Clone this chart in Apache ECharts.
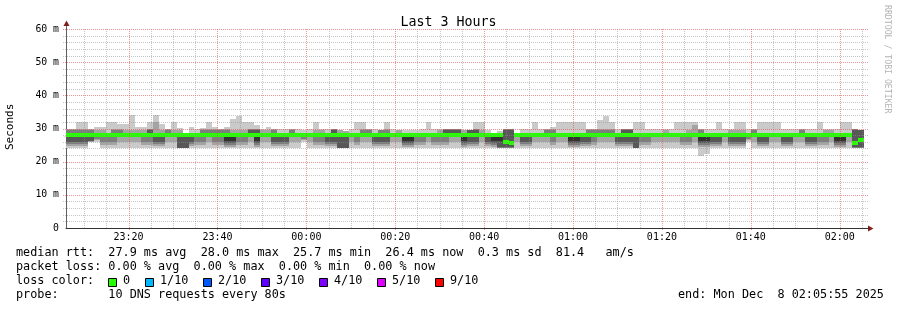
<!DOCTYPE html>
<html><head><meta charset="utf-8">
<script src="https://cdn.jsdelivr.net/npm/echarts@6/dist/echarts.min.js"></script>
<style>html,body{margin:0;padding:0;background:#fff}#c{width:897px;height:310px}</style>
</head><body><div id="c"></div>
<script>
// time in seconds after 23:00:00
const startTime = 329;      // start of first 80 s step (partially before axis start)
const stepSec = 80;
const axisStart = 355;      // 23:05:55
const axisEnd = 11155;      // 02:05:55
const majorTimes = [1200, 2400, 3600, 4800, 6000, 7200, 8400, 9600, 10800];
const minorTimes = [600, 900, 1500, 1800, 2100, 2700, 3000, 3300, 3900, 4200, 4500, 5100, 5400, 5700,
  6300, 6600, 6900, 7500, 7800, 8100, 8700, 9000, 9300, 9900, 10200, 10500, 11100];
const majorRtt = [10, 20, 30, 40, 50, 60];
const minorRtt = [2, 4, 6, 8, 12, 14, 16, 18, 22, 24, 26, 28, 32, 34, 36, 38, 42, 44, 46, 48, 52, 54, 56, 58];

// sorted ping rtts (ms) per 80 s step, rank 1 (fastest) .. rank 10 (slowest)
const p10 = [29.7,
 30,32,32,30,30.5,30.5,32,32,31.5,31.4,
 34.2,30.5,30.5,32,34.2,31.4,30,32,30.2,28.6,
 30.5,30,30.2,32,30.5,30,30.5,33,33.7,32,
 32,31,30,30.5,30,30,29.8,30,30,29.5,
 30,32,30,30,30,29.5,29.2,30,32,32,
 30,30,29.5,32,30,29.5,29.6,29.6,29.6,30,
 32,30,30,30,30,30,29.5,29.6,32,32,
 29.5,28.6,29.2,29.8,29.8,28.6,29.8,29.8,32,30,
 30,30.5,32,32,32,32,32,30,30,32.7,
 33.7,32,30,30,30,32,32,30,30,30,
 29.8,30,32,32,32,32,30,30,30,32,
 30,30,32,32,30,30,32,32,32,32,
 30,30,30,30,30,30,32,30,30,30,
 32,32,29.8,29.6];
const p9 = [29.7,
 29.7,29.7,29.7,29.7,29.6,29.6,28.6,29.7,29.7,29.6,
 29.6,29.6,29.6,29.8,32,29.6,29.7,29.6,29.6,28.6,
 28.6,28.6,29.7,29.7,29.7,29.7,29.7,29.6,29.6,29.6,
 29.8,29.8,29.6,29.6,29.7,28.6,28.6,29.7,28.6,28.6,
 28.6,29.6,29.6,28.6,29.8,29.5,29.2,28.6,28.6,29.7,
 29.7,28.6,29.5,29.7,28.6,29.5,28.6,28.6,28.6,28.6,
 28.6,28.6,29.6,29.8,29.8,29.8,29.5,29.6,29.8,29.6,
 28.6,28.6,28.6,29.8,29.8,28.6,28.6,28.6,28.6,28.6,
 29.7,29.7,28.6,28.6,28.6,28.6,28.6,29.7,29.7,29.7,
 29.7,29.7,28.6,29.8,29.8,28.6,28.6,28.6,28.6,28.6,
 29.6,28.6,28.6,28.6,29.6,31.2,29.7,28.6,28.6,28.6,
 28.6,29.6,29.6,29.6,28.6,29.7,28.6,28.6,28.6,28.6,
 28.6,28.6,28.6,29.7,28.6,28.6,28.6,29.6,29.6,28.6,
 28.6,28.6,29.8,29.6];
const p8 = [29.6,
 29.6,29.6,29.6,29.6,28.6,28.6,28.5,29.6,29.6,28.6,
 28.6,28.6,28.6,29.7,28.6,28.6,29.6,28.6,28.6,28.5,
 28.5,28.5,29.6,29.6,29.6,29.6,29.6,28.6,28.6,28.6,
 29.7,29.7,28.6,28.6,29.6,28.5,28.5,29.6,28.5,28.5,
 28.5,28.6,28.6,28.5,29.7,28.6,28.6,28.5,28.5,29.6,
 29.6,28.5,29.5,29.6,28.5,28.6,28.5,28.5,28.5,28.5,
 28.5,28.5,28.6,29.7,29.7,29.7,28.6,29.5,29.7,28.6,
 28.5,28.5,28.5,29.7,29.7,28.5,28.5,28.5,28.5,28.5,
 29.6,29.6,28.5,28.5,28.5,28.5,28.5,29.6,29.6,29.6,
 29.6,29.6,28.5,29.7,29.7,28.5,28.5,28.5,28.5,28.5,
 28.6,28.5,28.5,28.5,28.6,28.6,29.6,28.5,28.5,28.5,
 28.5,28.6,28.6,28.6,28.5,29.6,28.5,28.5,28.5,28.5,
 28.5,28.5,28.5,29.6,28.5,28.5,28.5,28.6,28.6,28.5,
 28.5,28.5,29.7,29.5];
const p7 = [28.6,
 28.6,28.6,28.6,28.6,28.5,28.5,28.4,28.6,28.6,28.5,
 28.5,28.5,28.5,29.6,28.5,28.5,28.6,28.5,28.5,28.4,
 28.4,28.4,28.6,28.6,28.6,28.6,28.6,28.5,28.5,28.5,
 29.6,29.6,28.5,28.5,28.6,28.4,28.4,28.6,28.4,28.4,
 28.4,28.5,28.5,28.4,29.6,28.5,28.5,28.4,28.4,28.6,
 28.6,28.4,28.6,28.6,28.4,28.5,28.4,28.4,28.4,28.4,
 28.4,28.4,28.5,29.6,29.6,29.6,28.5,29.4,29.6,28.5,
 28.4,28.4,28.4,29.6,29.6,28.4,28.4,28.4,28.4,28.4,
 28.6,28.6,28.4,28.4,28.4,28.4,28.4,28.6,28.6,28.6,
 28.6,28.6,28.4,29.6,29.6,28.4,28.4,28.4,28.4,28.4,
 28.5,28.4,28.4,28.4,28.5,28.5,28.6,28.4,28.4,28.4,
 28.4,28.5,28.5,28.5,28.4,28.6,28.4,28.4,28.4,28.4,
 28.4,28.4,28.4,28.6,28.4,28.4,28.4,28.5,28.5,28.4,
 28.4,28.4,29.6,29.4];
const p6 = [28.3,
 28.3,28.3,28.3,28.3,28.3,28.3,28.3,28.3,28.3,28.3,
 28.3,28.3,28.3,28.4,28.3,28.3,28.3,28.3,28.3,28.3,
 28.3,28.3,28.3,28.3,28.3,28.3,28.3,28.3,28.3,28.3,
 28.4,28.4,28.3,28.3,28.3,28.3,28.3,28.3,28.3,28.3,
 28.3,28.3,28.3,28.3,28.4,28.3,28.3,28.3,28.3,28.3,
 28.3,28.3,28.3,28.3,28.3,28.3,28.3,28.3,28.3,28.3,
 28.3,28.3,28.3,28.4,28.4,28.4,28.3,28.4,28.4,28.3,
 28.3,28.3,28.3,26.5,26.0,28.3,28.3,28.3,28.3,28.3,
 28.3,28.3,28.3,28.3,28.3,28.3,28.3,28.3,28.3,28.3,
 28.3,28.3,28.3,28.4,28.4,28.3,28.3,28.3,28.3,28.3,
 28.3,28.3,28.3,28.3,28.3,28.3,28.3,28.3,28.3,28.3,
 28.3,28.3,28.3,28.3,28.3,28.3,28.3,28.3,28.3,28.3,
 28.3,28.3,28.3,28.3,28.3,28.3,28.3,28.3,28.3,28.3,
 28.3,28.3,26.0,26.9];
const p5 = [27.6,
 27.6,27.6,27.6,27.3,27.7,27.7,27.7,27.7,27.7,27.7,
 27.7,27.7,27.7,27.7,27.6,27.6,27.7,27.7,27.6,27.6,
 27.6,27.7,27.7,27.7,27.7,27.7,26.1,26.1,27.7,27.7,
 27.7,26.1,27.7,27.7,27.6,27.6,27.6,27.7,27.7,27.7,
 27.7,27.7,27.7,27.6,27.6,27.6,27.6,27.7,27.7,27.7,
 27.7,27.6,27.6,27.6,27.7,27.7,26.1,26.1,27.7,27.7,
 27.7,27.7,27.7,27.7,27.7,27.7,26.1,27.6,27.6,27.7,
 27.6,26.1,26.1,25.5,25.4,27.7,27.6,27.6,27.7,27.7,
 27.7,27.7,27.7,27.7,26.1,26.1,27.6,27.6,27.7,27.7,
 27.7,27.7,27.6,27.6,27.6,27.6,27.7,27.7,27.7,27.7,
 27.7,27.7,27.7,27.7,27.7,27.7,26.1,26.1,27.6,27.6,
 27.7,27.6,27.6,27.6,27.7,27.7,27.6,27.6,27.7,27.7,
 27.6,27.6,27.7,27.7,27.6,27.6,27.7,27.7,27.7,26.1,
 26.1,27.7,25.4,25.9];
const p4 = [26.0,
 26.0,26.0,26.0,26.2,27.3,27.4,27.4,27.4,27.4,27.4,
 27.4,27.4,27.4,27.4,26.0,26.0,27.4,27.4,24.2,24.2,
 26.0,27.4,27.4,27.4,27.4,27.4,25.6,25.6,27.4,27.4,
 27.4,25.6,27.4,27.4,26.0,26.0,26.0,27.4,27.4,27.3,
 27.4,27.4,27.4,26.0,26.0,24.2,24.2,27.4,27.4,27.4,
 27.4,26.0,26.0,26.0,27.4,27.4,25.6,25.6,27.4,27.4,
 27.4,27.4,27.4,27.4,27.4,27.4,25.6,26.0,26.0,27.4,
 26.0,25.6,24.3,24.3,24.3,27.4,26.0,26.0,27.4,27.4,
 27.4,27.4,27.4,27.4,25.6,25.6,26.0,26.0,27.4,27.4,
 27.4,27.4,26.0,26.0,26.0,24.2,27.4,27.4,27.4,27.4,
 27.4,27.4,27.4,27.4,27.4,27.4,25.6,25.6,26.0,26.0,
 27.4,26.0,26.0,26.0,27.3,27.4,26.0,26.0,27.4,27.4,
 26.0,26.0,27.4,27.4,26.0,26.0,27.4,27.4,27.4,25.6,
 25.6,27.4,24.3,24.3];
const p3 = [25.2,
 25.2,25.2,25.2,26.1,26.8,26.0,26.0,26.0,27.3,27.3,
 27.3,27.3,26.0,26.0,25.2,25.2,27.3,27.3,24.1,24.1,
 25.2,26.0,26.0,27.3,26.0,26.0,25.0,25.0,26.0,26.0,
 27.3,25.0,27.3,27.3,25.2,25.2,25.2,27.3,27.3,26.8,
 27.3,26.0,26.0,25.2,25.2,24.1,24.1,27.3,26.0,27.3,
 27.3,25.2,25.2,25.2,27.3,27.3,25.0,25.0,26.0,26.0,
 27.3,26.0,26.0,26.0,27.3,27.3,25.0,25.2,25.2,27.3,
 25.2,25.0,24.2,24.2,24.2,27.3,25.2,25.2,27.3,27.3,
 27.3,26.0,27.3,27.3,25.0,25.0,25.2,25.2,26.0,27.3,
 27.3,27.3,25.2,25.2,25.2,24.1,26.0,26.0,27.3,27.3,
 27.3,27.3,27.3,26.0,26.0,27.3,25.0,25.0,25.2,25.2,
 27.3,25.2,25.2,25.2,26.8,27.3,25.2,25.2,27.3,27.3,
 25.2,25.2,27.3,27.3,25.2,25.2,26.0,26.0,27.3,25.0,
 25.0,27.3,24.2,24.2];
const p2 = [24.6,
 24.6,24.6,24.6,26.05,26.4,25.0,25.0,25.0,26.0,26.0,
 26.0,26.0,25.0,25.0,24.6,24.6,26.0,26.0,24.05,24.05,
 24.6,25.0,25.0,26.0,25.0,25.0,24.5,24.5,25.0,25.0,
 26.0,24.5,26.0,26.0,24.6,24.6,24.6,26.0,26.0,26.4,
 26.0,25.0,25.0,24.6,24.6,24.05,24.05,26.0,25.0,26.0,
 26.0,24.6,24.6,24.6,26.0,26.0,24.5,24.5,25.0,25.0,
 26.0,25.0,25.0,25.0,26.0,26.0,24.5,24.6,24.6,26.0,
 24.6,24.5,24.1,24.1,24.1,26.0,24.6,24.6,26.0,26.0,
 26.0,25.0,26.0,26.0,24.5,24.5,24.6,24.6,25.0,26.0,
 26.0,26.0,24.6,24.6,24.6,24.05,25.0,25.0,26.0,26.0,
 26.0,26.0,26.0,25.0,25.0,26.0,24.5,24.5,24.6,24.6,
 26.0,24.6,24.6,24.6,26.4,26.0,24.6,24.6,26.0,26.0,
 24.6,24.6,26.0,26.0,24.6,24.6,25.0,25.0,26.0,24.5,
 24.5,26.0,24.1,24.1];
const p1 = [24,
 24,24,24,26,26,24,24,24,24,24,
 24,24,24,24,24,24,24,24,24,24,
 24,24,24,24,24,24,24,24,24,24,
 24,24,24,24,24,24,24,24,24,26,
 24,24,24,24,24,24,24,24,24,24,
 24,24,24,24,24,24,24,24,24,24,
 24,24,24,24,24,24,24,24,24,24,
 24,24,24,24,24,24,24,24,24,24,
 24,24,24,24,24,24,24,24,24,24,
 24,24,24,24,24,24,24,24,24,24,
 24,24,24,24,24,24,21.7,22.2,24,24,
 24,24,24,24,26,24,24,24,24,24,
 24,24,24,24,24,24,24,24,24,24,
 24,24,24,24];
const median = [28,
 28,28,28,28,28,28,28,28,28,28,
 28,28,28,28,28,28,28,28,28,28,
 28,28,28,28,28,28,28,28,28,28,
 28,28,28,28,28,28,28,28,28,28,
 28,28,28,28,28,28,28,28,28,28,
 28,28,28,28,28,28,28,28,28,28,
 28,28,28,28,28,28,28,28,28,28,
 28,28,28,26.0,25.7,28,28,28,28,28,
 28,28,28,28,28,28,28,28,28,28,
 28,28,28,28,28,28,28,28,28,28,
 28,28,28,28,28,28,28,28,28,28,
 28,28,28,28,28,28,28,28,28,28,
 28,28,28,28,28,28,28,28,28,28,
 28,28,25.7,26.4];

const lossLabels = ['0', '1/10', '2/10', '3/10', '4/10', '5/10', '9/10'];
const lossColors = ['#26ff00', '#00b8ff', '#0059ff', '#5e00ff', '#7e00ff', '#dd00ff', '#ff0000'];
const legendLines = [
  'median rtt:  27.9 ms avg  28.0 ms max  25.7 ms min  26.4 ms now  0.3 ms sd  81.4   am/s',
  'packet loss: 0.00 % avg  0.00 % max  0.00 % min  0.00 % now',
  'loss color:',
  'probe:       10 DNS requests every 80s'
];
const endText = 'end: Mon Dec  8 02:05:55 2025';

// ---------------------------------------------------------------
const mono = '"DejaVu Sans Mono", monospace';
const majorC = 'rgba(222,79,79,0.6)', minorC = 'rgba(143,143,143,0.5)';
const bandColors = ['#cacaca', '#a4a4a4', '#7e7e7e', '#585858', '#323232'];
const ranks = [p1, p2, p3, p4, p5, p6, p7, p8, p9, p10];

function fmtTime(t) {
  const s = (23 * 3600 + t) % 86400;
  const h = Math.floor(s / 3600), m = Math.floor((s % 3600) / 60);
  return String(h).padStart(2, '0') + ':' + String(m).padStart(2, '0');
}

function bandSeries(k) {
  const lo = ranks[k], hi = ranks[9 - k], color = bandColors[k];
  const data = lo.map((v, i) => [startTime + i * stepSec, startTime + (i + 1) * stepSec, v, hi[i]]);
  return {
    type: 'custom', z: 2 + k, silent: true, animation: false, data,
    encode: { x: [0, 1], y: [2, 3] },
    renderItem(params, api) {
      const cs = params.coordSys;
      const a = api.coord([api.value(0), api.value(3)]);
      const b = api.coord([api.value(1), api.value(2)]);
      const x0 = Math.max(Math.round(a[0]), cs.x), x1 = Math.min(Math.round(b[0]), cs.x + cs.width);
      const y0 = Math.round(a[1]), y1 = Math.round(b[1]);
      if (x1 <= x0 || y1 <= y0) return null;
      return { type: 'rect', shape: { x: x0, y: y0, width: x1 - x0, height: y1 - y0 }, style: { fill: color } };
    }
  };
}

const series = [];
for (let k = 0; k < 5; k++) series.push(bandSeries(k));
series.push({
  type: 'custom', z: 10, silent: true, animation: false,
  data: median.map((v, i) => [startTime + i * stepSec, startTime + (i + 1) * stepSec, v]),
  encode: { x: [0, 1], y: 2 },
  renderItem(params, api) {
    const cs = params.coordSys;
    const a = api.coord([api.value(0), api.value(2)]);
    const b = api.coord([api.value(1), api.value(2)]);
    const x0 = Math.max(Math.round(a[0]), cs.x), x1 = Math.min(Math.round(b[0]), cs.x + cs.width);
    if (x1 <= x0) return null;
    const y = Math.round(a[1]);
    return { type: 'rect', shape: { x: x0, y: y - 2, width: x1 - x0, height: 4 }, style: { fill: lossColors[0] } };
  }
});
// dotted grid drawn over the graph as rrdtool does.
// kind: 0 vertical minor, 1 horizontal minor, 2 vertical major, 3 horizontal major
const gridKinds = [], gridValues = [];
minorTimes.forEach(t => { gridKinds.push(0); gridValues.push(t); });
minorRtt.forEach(v => { gridKinds.push(1); gridValues.push(v); });
majorTimes.forEach(t => { gridKinds.push(2); gridValues.push(t); });
majorRtt.forEach(v => { gridKinds.push(3); gridValues.push(v); });
series.push({
  type: 'custom', z: 20, silent: true, animation: false,
  data: gridKinds.map((k, i) => [k, gridValues[i]]),
  renderItem(params, api) {
    const cs = params.coordSys;
    const kind = gridKinds[params.dataIndex];
    const val = gridValues[params.dataIndex];
    const major = kind >= 2;
    let d = '';
    if (kind === 0 || kind === 2) {
      const x = Math.round(api.coord([val, 0])[0]);
      const yEnd = cs.y + cs.height + (major ? 3 : 0);
      for (let y = cs.y; y < yEnd; y += 2) d += 'M' + x + ' ' + y + 'h1v1h-1z';
    } else {
      const y = Math.round(api.coord([axisStart, val])[1]);
      for (let x = cs.x - 3; x < cs.x + cs.width + 3; x += 2) d += 'M' + x + ' ' + y + 'h1v1h-1z';
    }
    return { type: 'path', shape: { pathData: d }, style: { fill: major ? majorC : minorC, stroke: null } };
  }
});

// legend graphic
const graphics = [];
legendLines.forEach((s, i) => graphics.push({
  type: 'text', left: 16, top: 247 + i * 14, silent: true,
  style: { text: s, font: '11.8px ' + mono, fill: '#000' }
}));
graphics.push({
  type: 'text', left: 678, top: 289, silent: true,
  style: { text: endText, font: '11.8px ' + mono, fill: '#000' }
});
let lx = 108;
lossLabels.forEach((lab, i) => {
  graphics.push({ type: 'rect', silent: true, shape: { x: lx + 0.5, y: 278.5, width: 8, height: 8 },
    style: { fill: lossColors[i], stroke: '#000', lineWidth: 1 } });
  graphics.push({ type: 'text', silent: true, x: lx + 15, y: 275,
    style: { text: lab, font: '11.8px ' + mono, fill: '#000' } });
  lx = lx + 15 + lab.length * 7 + 15;
});
graphics.push({ type: 'text', silent: true, x: 5, y: 150, rotation: Math.PI / 2,
  style: { text: 'Seconds', font: '11px ' + mono, fill: '#000' } });
graphics.push({ type: 'text', silent: true, x: 891, y: 5, rotation: -Math.PI / 2,
  style: { text: 'RRDTOOL / TOBI OETIKER', font: '8.2px ' + mono, fill: '#b4b4b4' } });
graphics.push({ type: 'line', silent: true, shape: { x1: 66.5, y1: 25, x2: 66.5, y2: 29 }, style: { stroke: '#606060', lineWidth: 1 } });
graphics.push({ type: 'polygon', silent: true, shape: { points: [[63.5, 26], [69.5, 26], [66.5, 20.5]] }, style: { fill: '#801f1f' } });
graphics.push({ type: 'line', silent: true, shape: { x1: 866, y1: 228.5, x2: 869, y2: 228.5 }, style: { stroke: '#333', lineWidth: 1 } });
graphics.push({ type: 'polygon', silent: true, shape: { points: [[868, 225.5], [868, 231.5], [873.5, 228.5]] }, style: { fill: '#801f1f' } });

const chart = echarts.init(document.getElementById('c'), null, { renderer: 'canvas' });
chart.setOption({
  animation: false,
  backgroundColor: '#fff',
  title: { text: 'Last 3 Hours', left: 'center', top: 11,
    textStyle: { fontFamily: mono, fontSize: 13.3, fontWeight: 'normal', color: '#000' } },
  grid: { left: 66, right: 31, top: 29, bottom: 82, containLabel: false },
  xAxis: {
    type: 'value', min: axisStart, max: axisEnd,
    axisLine: { show: true, lineStyle: { color: '#333', width: 1 } },
    axisTick: { show: false },
    axisLabel: { customValues: majorTimes, formatter: fmtTime, fontFamily: mono, fontSize: 10, color: '#000', margin: 4 },
    splitLine: { show: false }
  },
  yAxis: {
    type: 'value', min: 0, max: 60, interval: 10,
    axisLine: { show: true, lineStyle: { color: '#606060', width: 1 } },
    axisTick: { show: false },
    axisLabel: { formatter: v => v === 0 ? '0' : v + ' m', fontFamily: mono, fontSize: 9.8, color: '#000', margin: 7 },
    splitLine: { show: false },
    minorSplitLine: { show: false }
  },
  graphic: graphics,
  series
});
</script>
</body></html>
